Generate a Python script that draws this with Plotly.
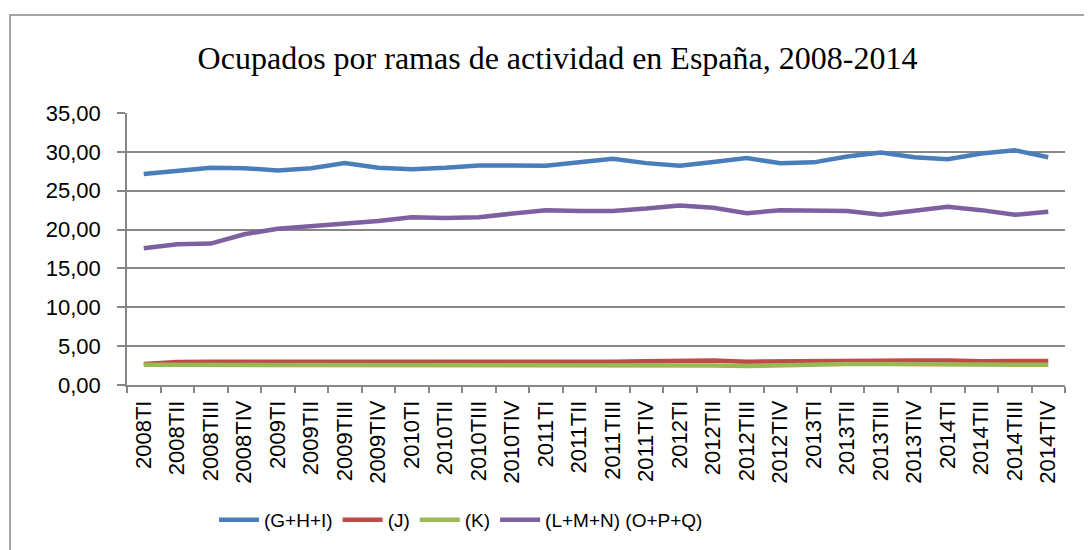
import plotly.graph_objects as go

categories = ["2008TI","2008TII","2008TIII","2008TIV","2009TI","2009TII","2009TIII","2009TIV",
              "2010TI","2010TII","2010TIII","2010TIV","2011TI","2011TII","2011TIII","2011TIV",
              "2012TI","2012TII","2012TIII","2012TIV","2013TI","2013TII","2013TIII","2013TIV",
              "2014TI","2014TII","2014TIII","2014TIV"]

ghi = [27.15, 27.5, 27.95, 27.9, 27.6, 27.9, 28.55, 27.95, 27.75, 27.95, 28.25, 28.25,
       28.2, 28.65, 29.1, 28.55, 28.2, 28.7, 29.2, 28.55, 28.65, 29.4, 29.9, 29.3,
       29.05, 29.8, 30.2, 29.3]
j = [2.7, 2.95, 3.0, 3.0, 2.95, 2.95, 2.9, 2.9, 2.9, 2.95, 3.0, 2.95, 2.95, 3.0,
     3.0, 3.05, 3.1, 3.15, 3.0, 3.05, 3.1, 3.15, 3.1, 3.15, 3.15, 3.05, 3.1, 3.1]
k = [2.6, 2.6, 2.55, 2.5, 2.55, 2.55, 2.6, 2.6, 2.6, 2.6, 2.55, 2.55, 2.6, 2.55,
     2.55, 2.55, 2.55, 2.5, 2.45, 2.55, 2.65, 2.7, 2.7, 2.7, 2.7, 2.6, 2.6, 2.6]
lmn = [17.6, 18.1, 18.2, 19.4, 20.1, 20.45, 20.7, 21.1, 21.6, 21.5, 21.6, 22.1,
       22.5, 22.4, 22.4, 22.7, 23.1, 22.8, 22.1, 22.5, 22.5, 22.4, 21.9, 22.4,
       22.95, 22.5, 21.9, 22.3]

series = [
    ("(G+H+I)", ghi, "#4A7EBB"),
    ("(J)", j, "#BE4B48"),
    ("(K)", k, "#98B954"),
    ("(L+M+N) (O+P+Q)", lmn, "#7D60A0"),
]

y_ticks = [0, 5, 10, 15, 20, 25, 30, 35]
y_labels = ["0,00", "5,00", "10,00", "15,00", "20,00", "25,00", "30,00", "35,00"]

fig = go.Figure()
for name, vals, color in series:
    fig.add_trace(go.Scatter(x=categories, y=vals, mode="lines", name=name,
                             line=dict(color=color, width=4.5)))

W, H = 1092, 550
OFF = 8  # page body offset
# target screen positions of plot area
sl, sr, st, sb = 127, 1065, 113, 385
ml = sl - OFF
mt = st - OFF
mr = W - (sr - OFF)
mb = H - (sb - OFF)
pw = W - ml - mr
ph = H - mt - mb

def px(xs):
    return (xs - sl) / pw

def py(ys):
    return (sb - ys) / ph

fig.update_layout(
    width=W, height=H,
    margin=dict(l=ml, r=mr, t=mt, b=mb),
    paper_bgcolor="white", plot_bgcolor="white",
    font=dict(family="Liberation Sans, Arial, sans-serif", color="#000000"),
    title=dict(text="Ocupados por ramas de actividad en España, 2008-2014",
               font=dict(family="Liberation Serif, Times New Roman, serif", size=32, color="#000000"),
               x=(557.5 - OFF) / W, xanchor="center", y=1 - (58 - OFF) / H, yanchor="middle"),
    showlegend=True,
    legend=dict(orientation="h", x=px(461), xanchor="center", y=py(520), yanchor="middle",
                font=dict(size=19), bgcolor="rgba(0,0,0,0)", itemwidth=40,
                tracegroupgap=0),
    xaxis=dict(type="category", tickangle=-90, tickfont=dict(size=22),
               showline=True, linecolor="#868686", linewidth=1.5,
               ticks="outside", ticklen=6, tickcolor="#868686", tickwidth=1.5,
               ticklabelstandoff=5,
               tickson="boundaries", showgrid=False, range=[-0.5, len(categories) - 0.5]),
    yaxis=dict(range=[0, 35], tickvals=y_ticks, ticktext=y_labels, tickfont=dict(size=22),
               showline=True, linecolor="#868686", linewidth=1.5,
               ticks="outside", ticklen=8, tickcolor="#868686", tickwidth=1.5,
               ticklabelstandoff=12,
               showgrid=True, gridcolor="#868686", gridwidth=1.5, zeroline=False),
    shapes=[dict(type="rect", xref="paper", yref="paper",
                 x0=px(10), x1=px(1110), y0=py(570), y1=py(15),
                 line=dict(color="#868686", width=1.5), fillcolor="rgba(0,0,0,0)", layer="below")],
)

fig.write_html("out.html")
